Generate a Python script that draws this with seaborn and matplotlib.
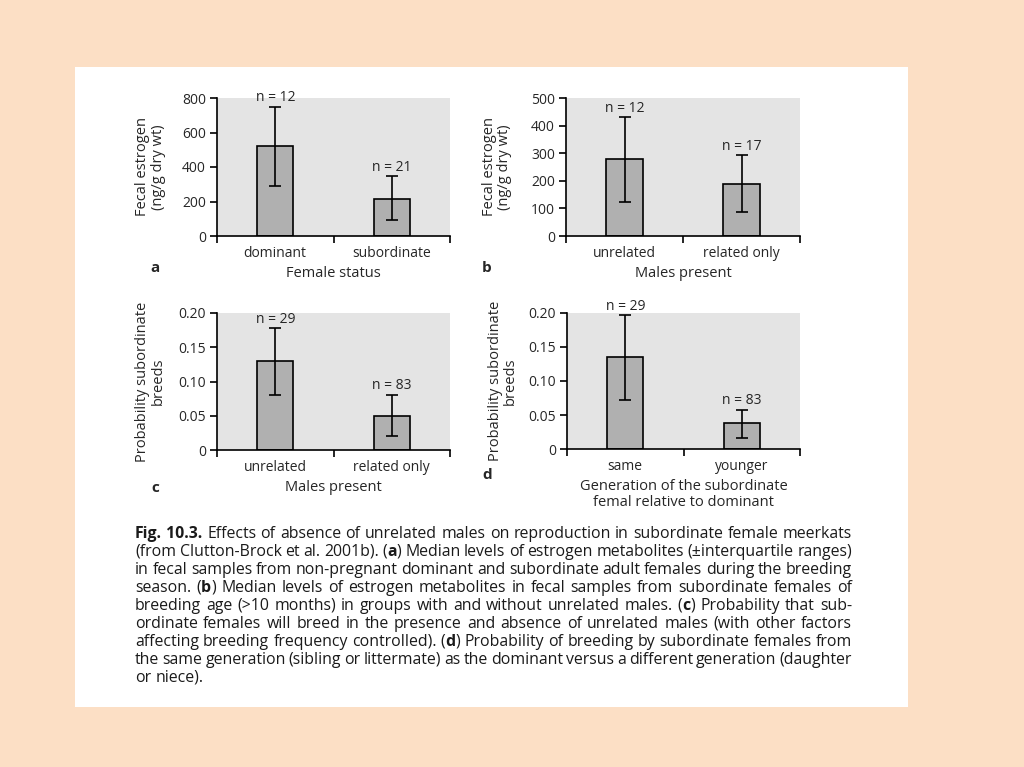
import numpy as np
import pandas as pd
import matplotlib
matplotlib.use("Agg")
import matplotlib.pyplot as plt
import seaborn as sns
from matplotlib.patches import Rectangle
from matplotlib.ticker import FixedLocator, FuncFormatter

# ===============================
# Data
# ===============================
cats_a = ["dominant", "subordinate"]
med_a = [520, 215]
lo_a = [290, 90]
hi_a = [750, 345]
n_a = ["n = 12", "n = 21"]

cats_b = ["unrelated", "related only"]
med_b = [280, 187]
lo_b = [125, 87]
hi_b = [430, 292]
n_b = ["n = 12", "n = 17"]

cats_c = ["unrelated", "related only"]
prob_c = [0.130, 0.050]
lo_c = [0.080, 0.020]
hi_c = [0.178, 0.081]
n_c = ["n = 29", "n = 83"]

cats_d = ["same", "younger"]
prob_d = [0.135, 0.038]
lo_d = [0.072, 0.016]
hi_d = [0.197, 0.058]
n_d = ["n = 29", "n = 83"]

caption = [
    "*Fig.* *10.3.*  Effects of absence of unrelated males on reproduction in subordinate female meerkats",
    "(from Clutton-Brock et al. 2001b). (*a*) Median levels of estrogen metabolites (\u00b1interquartile ranges)",
    "in fecal samples from non-pregnant dominant and subordinate adult females during the breeding",
    "season. (*b*) Median levels of estrogen metabolites in fecal samples from subordinate females of",
    "breeding age (>10 months) in groups with and without unrelated males. (*c*) Probability that sub-",
    "ordinate females will breed in the presence and absence of unrelated males (with other factors",
    "affecting breeding frequency controlled). (*d*) Probability of breeding by subordinate females from",
    "the same generation (sibling or littermate) as the dominant versus a different generation (daughter",
    "or niece).",
]

# ===============================
# Style
# ===============================
sns.set_theme(style="white")
plt.rcParams["font.family"] = ["Open Sans", "DejaVu Sans"]
W, H = 1024, 767
fig = plt.figure(figsize=(W / 100, H / 100), dpi=100)
fig.patch.set_facecolor("#fcdfc5")
fig.patches.append(Rectangle((75 / W, 1 - 707 / H), 833 / W, 640 / H,
                             transform=fig.transFigure, facecolor="white",
                             edgecolor="none", zorder=-10))

panel_bg = "#e4e4e4"
bar_col = "#b0b0b0"


def panel(box, cats, vals, lo, hi, nlab, ymax, yticks, ylabel, xlabel, letter, letter_off,
          prob=False, ylab_x=-0.22):
    # box = (left, top, right, bottom) in pixels
    l, t, r, b = box
    ax = fig.add_axes([l / W, 1 - b / H, (r - l) / W, (b - t) / H])
    ax.set_facecolor(panel_bg)
    sns.barplot(x=cats, y=vals, ax=ax, width=0.31, color=bar_col, saturation=1,
                edgecolor="black", linewidth=1.2, errorbar=None)
    vals = np.array(vals)
    yerr = [vals - np.array(lo), np.array(hi) - vals]
    ax.errorbar([0, 1], vals, yerr=yerr, fmt="none", ecolor="black",
                elinewidth=1.2, capsize=4, capthick=1.2, zorder=5)
    for i, txt in enumerate(nlab):
        ax.annotate(txt, (i, hi[i]), xytext=(0, 1), textcoords="offset points",
                    ha="center", va="bottom", fontsize=10, annotation_clip=False)
    ax.set_xlim(-0.5, 1.5)
    ax.set_ylim(0, ymax)
    for s in ["top", "right"]:
        ax.spines[s].set_visible(False)
    for s in ["left", "bottom"]:
        ax.spines[s].set_color("black")
        ax.spines[s].set_linewidth(1.2)
    ax.set_yticks(yticks)
    if prob:
        ax.yaxis.set_major_formatter(FuncFormatter(lambda v, p: "0" if v == 0 else f"{v:.2f}"))
    ax.xaxis.set_minor_locator(FixedLocator([-0.5, 0.5, 1.5]))
    ax.tick_params(axis="x", which="major", length=0, labelsize=10, pad=7)
    ax.tick_params(axis="x", which="minor", length=5, width=1.2, color="black", direction="out", bottom=True)
    ax.tick_params(axis="y", length=5, width=1.2, color="black", direction="out", left=True, labelsize=10, pad=3)
    ax.set_xlabel(xlabel, fontsize=10.5, labelpad=4, linespacing=1.1)
    ax.set_ylabel(ylabel, fontsize=10.5, linespacing=1.05)
    ax.yaxis.set_label_coords(ylab_x, 0.5)
    fig.text((l + letter_off[0]) / W, 1 - (b + letter_off[1]) / H, letter, fontsize=11,
             fontweight="bold", ha="center", va="center")
    return ax


panel((217, 98, 450, 236), cats_a, med_a, lo_a, hi_a, n_a, 800,
      [0, 200, 400, 600, 800], "Fecal estrogen\n(ng/g dry wt)", "Female status", "a", (-62, 32))
panel((566, 98, 800, 236), cats_b, med_b, lo_b, hi_b, n_b, 500,
      [0, 100, 200, 300, 400, 500], "Fecal estrogen\n(ng/g dry wt)", "Males present", "b",
      (-79, 32), ylab_x=-0.23)
panel((217, 313, 450, 450), cats_c, prob_c, lo_c, hi_c, n_c, 0.2,
      [0, 0.05, 0.10, 0.15, 0.20], "Probability subordinate\nbreeds", "Males present", "c",
      (-62, 38), prob=True)
panel((567, 313, 800, 449), cats_d, prob_d, lo_d, hi_d, n_d, 0.2,
      [0, 0.05, 0.10, 0.15, 0.20], "Probability subordinate\nbreeds",
      "Generation of the subordinate\nfemal relative to dominant", "d", (-80, 26), prob=True,
      ylab_x=-0.21)

# ===============================
# Caption (justified, bold pieces marked with *)
# ===============================
renderer = fig.canvas.get_renderer()
x0, x1 = 135, 852
y_first, dy = 538, 18
cap_fs = 11.4


def pieces(word):
    out = []
    bold = False
    for p in word.split("*"):
        if p:
            out.append((p, bold))
        bold = not bold
    return out


probe = fig.text(0, 0, "a a", fontsize=cap_fs)
probe1 = fig.text(0, 0, "aa", fontsize=cap_fs)
sw = probe.get_window_extent(renderer).width - probe1.get_window_extent(renderer).width
probe.remove()
probe1.remove()

for li, line in enumerate(caption):
    y = 1 - (y_first + li * dy) / H
    words = [w for w in line.split(" ") if w != ""]
    arts = []
    for w in words:
        segs = []
        for txt, bld in pieces(w):
            segs.append(fig.text(0, y, txt, fontsize=cap_fs, fontweight="bold" if bld else "normal",
                                 color="#1a1a1a", va="baseline", ha="left"))
        arts.append(segs)
    widths = [[s.get_window_extent(renderer).width for s in segs] for segs in arts]
    total = sum(sum(ws) for ws in widths)
    if li < len(caption) - 1:
        gap = max((x1 - x0 - total) / max(len(words) - 1, 1), 0.6 * sw)
    else:
        gap = sw
    x = x0
    for segs, ws in zip(arts, widths):
        for s, wd in zip(segs, ws):
            s.set_x(x / W)
            x += wd
        x += gap

fig.savefig("out.png", dpi=100, facecolor=fig.get_facecolor())
